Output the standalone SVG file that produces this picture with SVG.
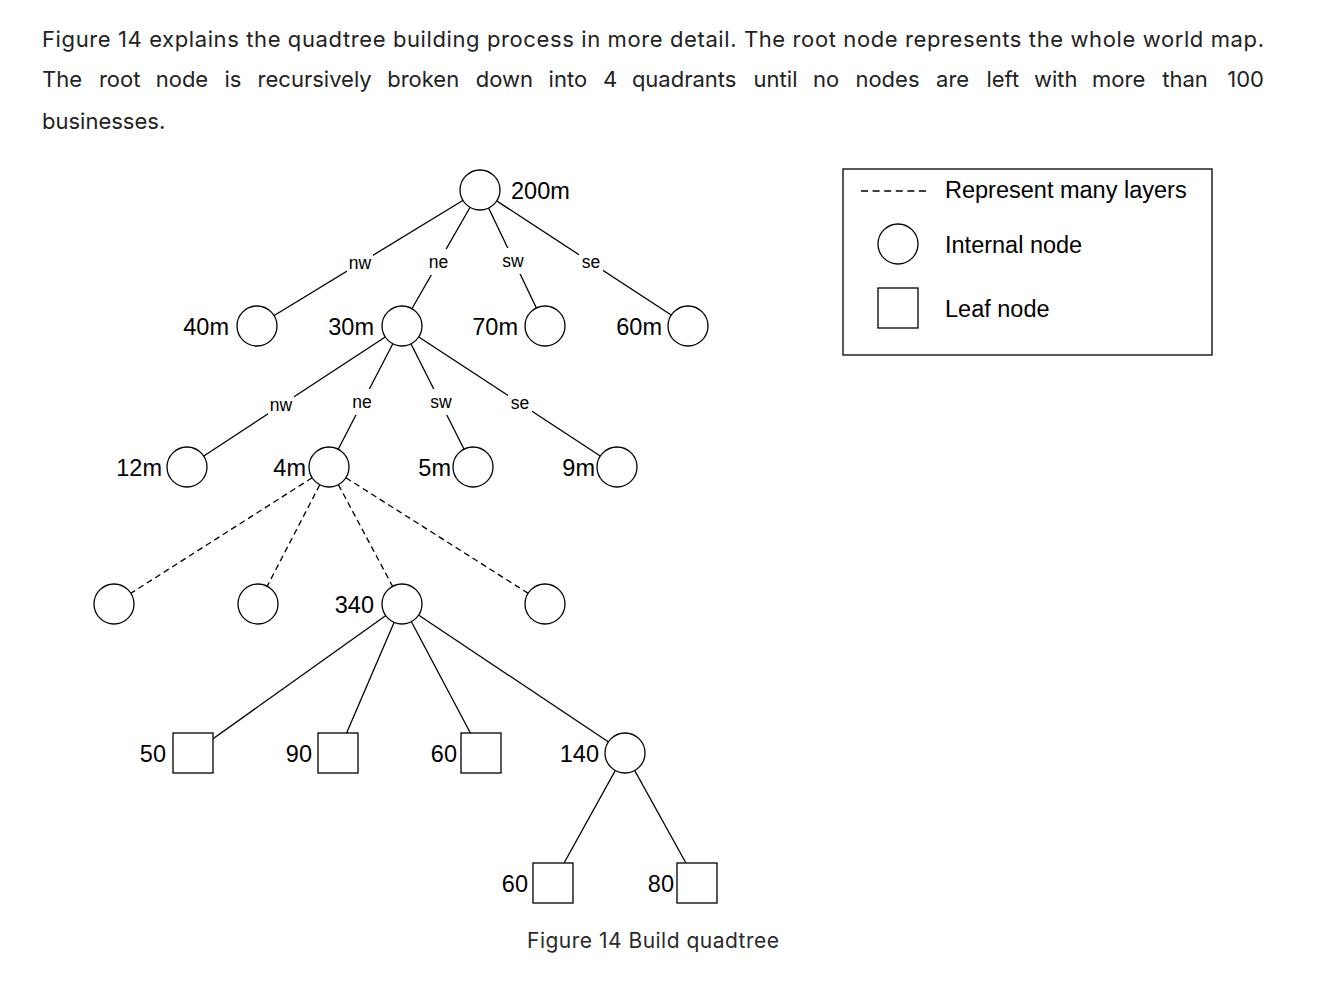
<svg xmlns="http://www.w3.org/2000/svg" width="1320" height="990" viewBox="0 0 1320 990">
<style>
.prose{font-family:Inter,"Noto Sans","Liberation Sans",sans-serif;font-size:22px;fill:#222}
.cap{font-family:Inter,"Noto Sans","Liberation Sans",sans-serif;font-size:21px;fill:#2a2a2a}
.lbl{font-family:"Liberation Sans",Arial,sans-serif;font-size:23.5px;fill:#000}
.el{font-family:"Liberation Sans",Arial,sans-serif;font-size:17.5px;fill:#000;text-anchor:middle}
.bg{fill:#fff;stroke:none}
.e{stroke:#000;stroke-width:1.3;fill:none}
.d{stroke:#000;stroke-width:1.3;fill:none;stroke-dasharray:6 4}
.c{fill:#fff;stroke:#000;stroke-width:1.3}
.end{text-anchor:end}
</style>
<rect width="1320" height="990" fill="#fff"/>
<g id="intro">
<text class="prose" x="42" y="47" textLength="1222" lengthAdjust="spacing">Figure 14 explains the quadtree building process in more detail. The root node represents the whole world map.</text>
<text class="prose" y="87"><tspan x="42">The</tspan><tspan x="98.9">root</tspan><tspan x="155.7">node</tspan><tspan x="224.5">is</tspan><tspan x="257.6">recursively</tspan><tspan x="387.2">broken</tspan><tspan x="475.8">down</tspan><tspan x="548.6">into</tspan><tspan x="602.9">4</tspan><tspan x="631.9">quadrants</tspan><tspan x="753.6">until</tspan><tspan x="813.1">no</tspan><tspan x="855.4">nodes</tspan><tspan x="936.1">are</tspan><tspan x="986.4">left</tspan><tspan x="1034">with</tspan><tspan x="1092.1">more</tspan><tspan x="1162.2">than</tspan></text>
<text class="prose end" x="1264" y="87">100</text>
<text class="prose" x="42" y="129">businesses.</text>
</g>
<g id="connectors">
<line class="e" x1="480" y1="190" x2="257" y2="326"/>
<line class="e" x1="480" y1="190" x2="402" y2="326"/>
<line class="e" x1="480" y1="190" x2="545" y2="326"/>
<line class="e" x1="480" y1="190" x2="688" y2="326"/>
<line class="e" x1="402" y1="326" x2="187" y2="467"/>
<line class="e" x1="402" y1="326" x2="329" y2="467"/>
<line class="e" x1="402" y1="326" x2="473" y2="467"/>
<line class="e" x1="402" y1="326" x2="617" y2="467"/>
<line class="d" x1="329" y1="467" x2="114" y2="604"/>
<line class="d" x1="329" y1="467" x2="258" y2="604"/>
<line class="d" x1="329" y1="467" x2="402" y2="604"/>
<line class="d" x1="329" y1="467" x2="545" y2="604"/>
<line class="e" x1="402" y1="604" x2="193" y2="753"/>
<line class="e" x1="402" y1="604" x2="338" y2="753"/>
<line class="e" x1="402" y1="604" x2="481" y2="753"/>
<line class="e" x1="402" y1="604" x2="625" y2="753"/>
<line class="e" x1="625" y1="753" x2="553" y2="883"/>
<line class="e" x1="625" y1="753" x2="697" y2="883"/>
<rect class="bg" x="347" y="251" width="26" height="24"/>
<rect class="bg" x="427" y="249" width="23" height="26"/>
<rect class="bg" x="501" y="248" width="24" height="26"/>
<rect class="bg" x="579" y="253" width="24" height="20"/>
<rect class="bg" x="268" y="394" width="26" height="22"/>
<rect class="bg" x="351" y="389" width="23" height="26"/>
<rect class="bg" x="429" y="389" width="24" height="26"/>
<rect class="bg" x="508" y="394" width="24" height="20"/>
<text class="el" x="360" y="269">nw</text>
<text class="el" x="438.5" y="268">ne</text>
<text class="el" x="513" y="267">sw</text>
<text class="el" x="591" y="268">se</text>
<text class="el" x="281" y="411">nw</text>
<text class="el" x="362" y="408">ne</text>
<text class="el" x="441" y="408">sw</text>
<text class="el" x="520" y="409">se</text>
</g>
<g id="root"><circle class="c" cx="480" cy="190" r="20"/><text class="lbl" x="511" y="199">200m</text></g>
<g id="n40m"><circle class="c" cx="257" cy="326" r="20"/><text class="lbl end" x="229" y="335">40m</text></g>
<g id="n30m"><circle class="c" cx="402" cy="326" r="20"/><text class="lbl end" x="374" y="335">30m</text></g>
<g id="n70m"><circle class="c" cx="545" cy="326" r="20"/><text class="lbl end" x="518" y="335">70m</text></g>
<g id="n60m"><circle class="c" cx="688" cy="326" r="20"/><text class="lbl end" x="662" y="335">60m</text></g>
<g id="n12m"><circle class="c" cx="187" cy="467" r="20"/><text class="lbl end" x="162" y="476">12m</text></g>
<g id="n4m"><circle class="c" cx="329" cy="467" r="20"/><text class="lbl end" x="306" y="476">4m</text></g>
<g id="n5m"><circle class="c" cx="473" cy="467" r="20"/><text class="lbl end" x="451" y="476">5m</text></g>
<g id="n9m"><circle class="c" cx="617" cy="467" r="20"/><text class="lbl end" x="595" y="476">9m</text></g>
<g id="d1"><circle class="c" cx="114" cy="604" r="20"/></g>
<g id="d2"><circle class="c" cx="258" cy="604" r="20"/></g>
<g id="n340"><circle class="c" cx="402" cy="604" r="20"/><text class="lbl end" x="374" y="613">340</text></g>
<g id="d4"><circle class="c" cx="545" cy="604" r="20"/></g>
<g id="leaf50"><rect class="c" x="173" y="733" width="40" height="40"/><text class="lbl end" x="166" y="762">50</text></g>
<g id="leaf90"><rect class="c" x="318" y="733" width="40" height="40"/><text class="lbl end" x="312" y="762">90</text></g>
<g id="leaf60a"><rect class="c" x="461" y="733" width="40" height="40"/><text class="lbl end" x="457" y="762">60</text></g>
<g id="n140"><circle class="c" cx="625" cy="753" r="20"/><text class="lbl end" x="599" y="762">140</text></g>
<g id="leaf60b"><rect class="c" x="533" y="863" width="40" height="40"/><text class="lbl end" x="528" y="892">60</text></g>
<g id="leaf80"><rect class="c" x="677" y="863" width="40" height="40"/><text class="lbl end" x="674" y="892">80</text></g>
<g id="legend">
<rect x="843" y="169" width="369" height="186" fill="#fff" stroke="#000" stroke-width="1.3"/>
<line x1="861" y1="191" x2="928" y2="191" stroke="#000" stroke-width="1.3" stroke-dasharray="7 4.6"/>
<text class="lbl" x="945" y="198">Represent many layers</text>
<circle class="c" cx="898" cy="244" r="20"/>
<text class="lbl" x="945" y="253">Internal node</text>
<rect class="c" x="878" y="288" width="40" height="40"/>
<text class="lbl" x="945" y="317">Leaf node</text>
</g>
<g id="caption"><text class="cap" x="527" y="948" textLength="252" lengthAdjust="spacing">Figure 14 Build quadtree</text></g>
</svg>
